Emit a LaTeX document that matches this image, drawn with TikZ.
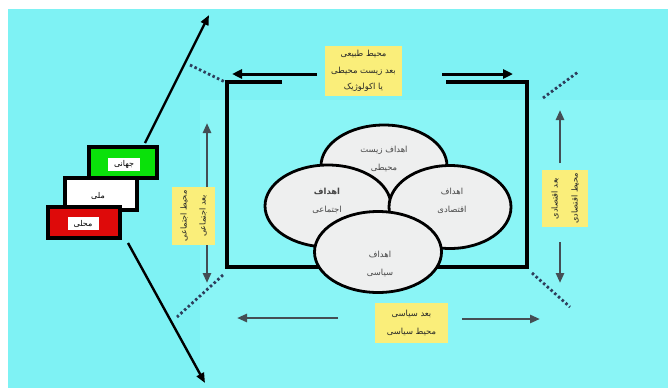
\documentclass[tikz,border=0pt]{standalone}
\usepackage{fontspec}
\newfontfamily\arabicfont[Script=Arabic]{DejaVu Sans}
\TeXXeTstate=1
\usetikzlibrary{arrows.meta,shapes.geometric}
\newcommand{\fa}[1]{{\arabicfont\beginR #1\endR}}
\definecolor{bgcyan}{RGB}{126,242,244}
\definecolor{bglight}{RGB}{138,245,246}
\definecolor{yel}{RGB}{250,238,122}
\definecolor{gbox}{RGB}{10,225,10}
\definecolor{rbox}{RGB}{222,10,10}
\definecolor{grayarr}{RGB}{68,78,84}
\definecolor{dotc}{RGB}{45,62,92}
\definecolor{ellfill}{RGB}{238,239,239}
\begin{document}
\begin{tikzpicture}[x=1pt,y=-1pt,
  ybox/.style={fill=yel,inner sep=0pt,align=center,font=\fontsize{8.4}{16.5}\selectfont,text=black!85},
  ell/.style={ellipse,draw=black,line width=2.8pt,fill=ellfill,inner sep=0pt},
  elltext/.style={align=center,font=\fontsize{8.4}{18}\selectfont,text=black!72},
  lvl/.style={draw=black,line width=3.2pt,inner sep=0pt,minimum width=68pt,minimum height=31pt},
  lbl/.style={fill=white,inner sep=1.5pt,font=\fontsize{8}{9}\selectfont},
  bigarr/.style={draw=black,line width=2.4pt,-{Triangle[length=10pt,width=8pt]}},
  toparr/.style={draw=black,line width=3pt,-{Triangle[length=10pt,width=9pt]}},
  grayarrow/.style={draw=grayarr,line width=2.6pt,-{Triangle[length=10pt,width=8pt]}},
  dotline/.style={draw=dotc,line width=2.8pt,dash pattern=on 2.5pt off 2.5pt},
  frame/.style={draw=black,line width=3.2pt}]
\useasboundingbox (0,0) rectangle (668,388);
\fill[white] (0,0) rectangle (668,388);
\fill[bgcyan] (8,9) rectangle (668,388);
\fill[bglight] (200,100) rectangle (668,388);
% frame
\coordinate (f1) at (282,82);
\coordinate (f2) at (227,82);
\coordinate (f3) at (227,267);
\coordinate (f4) at (527,267);
\coordinate (f5) at (527,82);
\coordinate (f6) at (446,82);
\draw[frame] (f1) -- (f2) -- (f3) -- (f4) -- (f5) -- (f6);
% dotted lines
\coordinate (d1a) at (190,65); \coordinate (d1b) at (225,82);
\coordinate (d2a) at (543,98); \coordinate (d2b) at (578,72);
\coordinate (d3a) at (223,275); \coordinate (d3b) at (177,317);
\coordinate (d4a) at (532,273); \coordinate (d4b) at (570,307);
\draw[dotline] (d1a) -- (d1b);
\draw[dotline] (d2a) -- (d2b);
\draw[dotline] (d3a) -- (d3b);
\draw[dotline] (d4a) -- (d4b);
% ellipses
\node[ell,minimum width=126pt,minimum height=82pt] (etop) at (384,166) {};
\node[ell,minimum width=126pt,minimum height=82pt] (eleft) at (328,206) {};
\node[ell,minimum width=122pt,minimum height=83pt] (eright) at (450,207) {};
\node[ell,minimum width=127pt,minimum height=81pt] (ebot) at (378,252) {};
\node[elltext] (ttop) at (384,159) {\fa{اهداف زیست}\\\fa{محیطی}};
\node[elltext] (tleft) at (327,201) {{\bfseries\fa{اهداف}}\\\fa{اجتماعی}};
\node[elltext] (tright) at (452,201) {\fa{اهداف}\\\fa{اقتصادی}};
\node[elltext] (tbot) at (380,264) {\fa{اهداف}\\\fa{سیاسی}};
% yellow boxes
\node[ybox,minimum width=77pt,minimum height=50pt] (ytop) at (363.5,71)
  {\fa{محیط طبیعی}\\\fa{بعد زیست محیطی}\\\fa{یا اکولوژیک}};
\node[ybox,rotate=90,minimum width=58pt,minimum height=43pt,font=\fontsize{8.2}{19}\selectfont] (yleft) at (193.5,216)
  {\fa{محیط اجتماعی}\\\fa{بعد اجتماعی}};
\node[ybox,rotate=90,minimum width=57pt,minimum height=46pt,font=\fontsize{8.2}{20}\selectfont] (yright) at (565,198.5)
  {\fa{بعد اقتصادی}\\\fa{محیط اقتصادی}};
\node[ybox,minimum width=73pt,minimum height=40pt,font=\fontsize{8.4}{18}\selectfont] (ybot) at (411.5,323)
  {\fa{بعد سیاسی}\\\fa{محیط سیاسی}};
% top horizontal arrows
\coordinate (ha1) at (317,74); \coordinate (ha2) at (232,74);
\coordinate (hb1) at (442,74); \coordinate (hb2) at (513,74);
\draw[toparr] (ha1) -- (ha2);
\draw[toparr] (hb1) -- (hb2);
% gray arrows
\coordinate (lv1) at (207,187); \coordinate (lv2) at (207,123);
\coordinate (lv3) at (207,245); \coordinate (lv4) at (207,283);
\coordinate (rv1) at (560,163); \coordinate (rv2) at (560,110);
\coordinate (rv3) at (560,242); \coordinate (rv4) at (560,283);
\coordinate (bh1) at (338,318); \coordinate (bh2) at (237,318);
\coordinate (bh3) at (462,319); \coordinate (bh4) at (540,319);
\draw[grayarrow] (lv1) -- (lv2);
\draw[grayarrow] (lv3) -- (lv4);
\draw[grayarrow] (rv1) -- (rv2);
\draw[grayarrow] (rv3) -- (rv4);
\draw[grayarrow] (bh1) -- (bh2);
\draw[grayarrow] (bh3) -- (bh4);
% level boxes
\node[lvl,fill=gbox] (global) at (123,162.5) {};
\node[lvl,fill=white,minimum width=72pt,minimum height=32pt] (national) at (101,194) {};
\node[lvl,fill=rbox,minimum width=72pt] (local) at (84,222.5) {};
\node[lbl,minimum width=32pt,minimum height=13pt] (tglobal) at (124,164) {\fa{جهانی}};
\node[font=\fontsize{8}{9}\selectfont] (tnational) at (98,196) {\fa{ملی}};
\node[lbl,minimum width=31pt,minimum height=13pt] (tlocal) at (83,223.5) {\fa{محلی}};
% big arrows
\coordinate (ua1) at (145,143); \coordinate (ua2) at (209,15);
\coordinate (da1) at (128,243); \coordinate (da2) at (205,383);
\draw[bigarr] (ua1) -- (ua2);
\draw[bigarr] (da1) -- (da2);
\end{tikzpicture}
\end{document}
